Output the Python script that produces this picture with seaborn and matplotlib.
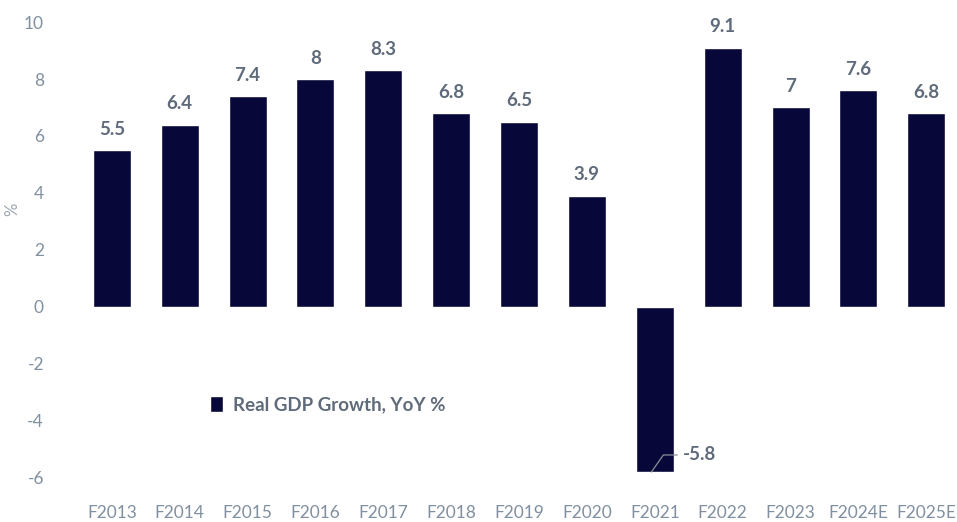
import matplotlib
matplotlib.use("Agg")
import matplotlib.pyplot as plt
import seaborn as sns
import pandas as pd

categories = ["F2013", "F2014", "F2015", "F2016", "F2017", "F2018", "F2019",
              "F2020", "F2021", "F2022", "F2023", "F2024E", "F2025E"]
values = [5.5, 6.4, 7.4, 8, 8.3, 6.8, 6.5, 3.9, -5.8, 9.1, 7, 7.6, 6.8]
value_labels = ["5.5", "6.4", "7.4", "8", "8.3", "6.8", "6.5", "3.9", "-5.8",
                "9.1", "7", "7.6", "6.8"]
yticks = [-6, -4, -2, 0, 2, 4, 6, 8, 10]
series_name = "Real GDP Growth, YoY %"

sns.set_theme(style="white")
plt.rcParams['font.family'] = ['Lato', 'DejaVu Sans']

bar_color = "#07073a"
label_color = "#5f6b7a"
tick_color = "#8090a0"

df = pd.DataFrame({"cat": categories, "val": values})

fig = plt.figure(figsize=(9.57, 5.22), dpi=100)
ax = fig.add_axes([74.5/957, 1-492/522, 875.5/957, 478.5/522])
sns.barplot(data=df, x="cat", y="val", color=bar_color, saturation=1,
            width=0.56, label=series_name, ax=ax)

ax.set_xlim(-0.55, 12.35)
ax.set_ylim(-6.5, 10.3)
ax.set_yticks(yticks)
ax.set_yticklabels([str(t) for t in yticks])
for s in ax.spines.values():
    s.set_visible(False)
ax.tick_params(axis="both", length=0, labelsize=12.5, colors=tick_color)
ax.tick_params(axis="y", pad=22)
ax.tick_params(axis="x", pad=9)
ax.set_xlabel("")
ax.set_ylabel("%", color="#9aa5b0", fontsize=12)
ax.yaxis.set_label_coords(-0.062, 0.59)

for i, (v, lab) in enumerate(zip(values, value_labels)):
    if v >= 0:
        ax.annotate(lab, (i, v), xytext=(0, 9), textcoords="offset points",
                    ha="center", va="bottom", fontsize=13.5, fontweight="bold",
                    color=label_color)
    else:
        ax.annotate(lab, xy=(i - 0.05, v), xytext=(i + 0.42, -5.2),
                    ha="left", va="center", fontsize=13.5, fontweight="bold",
                    color=label_color,
                    arrowprops=dict(arrowstyle="-", color="#8a8f96", lw=0.9,
                                    shrinkA=2, shrinkB=0,
                                    connectionstyle="angle,angleA=0,angleB=55,rad=0"))

leg = ax.legend(loc="center left", bbox_to_anchor=(0.155, 0.182), frameon=False,
                borderpad=0, borderaxespad=0, handlelength=0.7, handleheight=0.9,
                handletextpad=0.5, fontsize=13.5)
for t in leg.get_texts():
    t.set_color(label_color)
    t.set_fontweight("bold")

fig.savefig("out.png", dpi=100)
